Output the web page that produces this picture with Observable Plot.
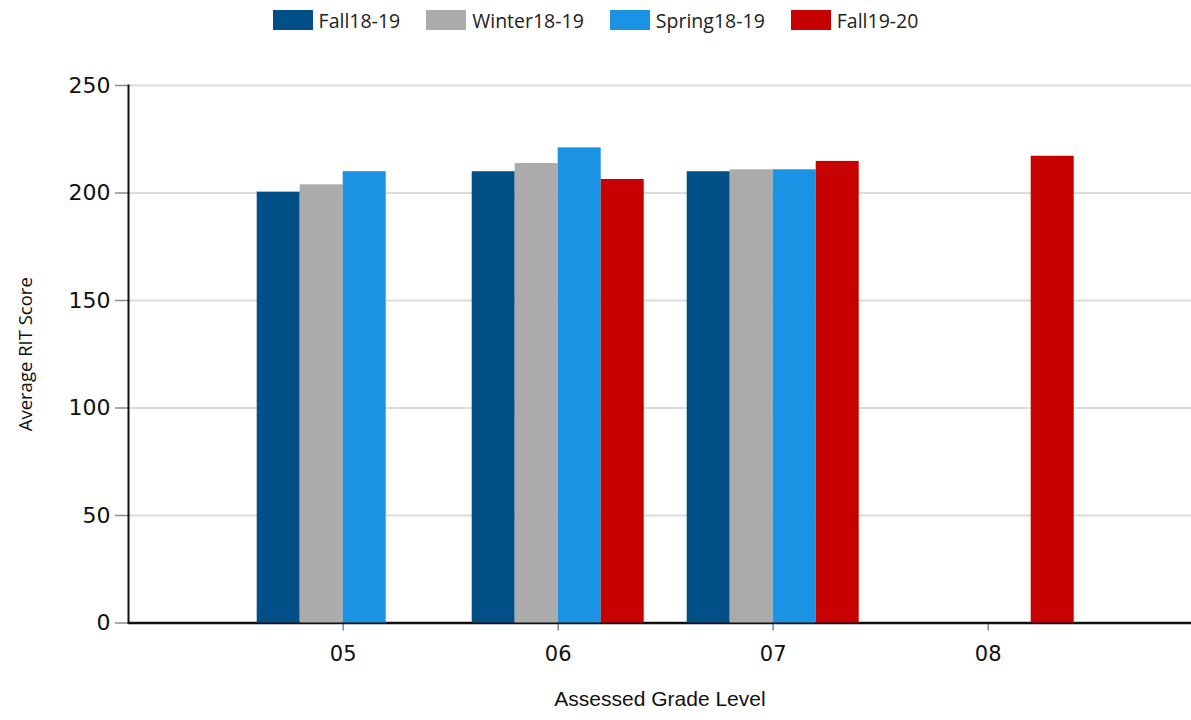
<!DOCTYPE html>
<html><head><meta charset="utf-8">
<script src="https://cdn.jsdelivr.net/npm/d3@7"></script>
<script src="https://cdn.jsdelivr.net/npm/@observablehq/plot@0.6"></script>
<style>
body{margin:0;background:#fff;}
#wrap{position:relative;width:1191px;}
#legend{height:40px;display:flex;justify-content:center;align-items:center;font-family:"Open Sans",sans-serif;font-size:19.5px;color:#222}
.item{display:flex;align-items:center;margin:0 13px}
.sw{width:40px;height:20px;margin-right:6px}
#chart{position:relative;width:1191px;height:680px}
#chart svg{position:absolute;left:0;top:0}
</style></head><body>
<div id="wrap"><div id="legend"></div><div id="chart"></div></div>
<script>
const grades = ["05","06","07","08"];
const series = ["Fall18-19","Winter18-19","Spring18-19","Fall19-20"];
const colors = ["#014f87","#aaabaa","#1b93e5","#c70000"];
const fall1819   = [200.4, 209.9, 209.9, null];
const winter1819 = [203.8, 213.7, 210.8, null];
const spring1819 = [209.9, 221.0, 210.8, null];
const fall1920   = [null, 206.3, 214.7, 217.1];
const yTicks = [0, 50, 100, 150, 200, 250];
const xTitle = "Assessed Grade Level";
const yTitle = "Average RIT Score";

const valuesBySeries = [fall1819, winter1819, spring1819, fall1920];
const data = [];
series.forEach((s, si) => grades.forEach((g, gi) => {
  const v = valuesBySeries[si][gi];
  if (v != null) data.push({grade: g, series: s, value: v});
}));

// legend
const legend = document.getElementById("legend");
series.forEach((s, i) => {
  const it = document.createElement("div"); it.className = "item";
  const sw = document.createElement("div"); sw.className = "sw"; sw.style.background = colors[i];
  const tx = document.createElement("span"); tx.textContent = s;
  it.appendChild(sw); it.appendChild(tx); legend.appendChild(it);
});

const common = {width: 1191, height: 680, marginLeft: 128, marginRight: 0, marginTop: 45, marginBottom: 97.5};
const bandOpts = {type: "band", domain: grades, paddingInner: 0.2, paddingOuter: 0.5721, align: 0.5232, round: false};

const base = Plot.plot({
  ...common,
  style: {background: "white", color: "#111"},
  x: {...bandOpts, label: null},
  y: {domain: [0, 250], label: null},
  marks: [
    Plot.gridY(yTicks, {stroke: "#dcdcdc", strokeOpacity: 1, strokeWidth: 2}),
    Plot.axisY(yTicks, {tickSize: 13, tickPadding: 5, stroke: "#888", strokeWidth: 1.5, fill: "#111",
      fontSize: 22, fontFamily: "DejaVu Sans", label: yTitle, labelArrow: "none", labelAnchor: "center", labelOffset: 110}),
    Plot.axisX({tickSize: 8, tickPadding: 15, stroke: "#888", strokeWidth: 1.5, fill: "#111",
      fontSize: 21, fontFamily: "DejaVu Sans", label: xTitle, labelArrow: "none", labelAnchor: "center", labelOffset: 83}),
    Plot.ruleY([0], {stroke: "#111", strokeWidth: 2.5}),
    Plot.frame({anchor: "left", stroke: "#111", strokeWidth: 2})
  ]
});

const bars = Plot.plot({
  ...common,
  fx: {...bandOpts, axis: null, label: null},
  x: {domain: series, padding: 0, axis: null, round: false},
  y: {domain: [0, 250], axis: null},
  color: {domain: series, range: colors},
  marks: [
    Plot.barY(data, {fx: "grade", x: "series", y: "value", fill: "series"})
  ]
});
bars.style.background = "transparent";

const chart = document.getElementById("chart");
chart.appendChild(base);
chart.appendChild(bars);

// axis title fonts
base.querySelectorAll('[aria-label="y-axis label"] text, [aria-label="y-axis label"]').forEach(n => {
  n.setAttribute("font-family", "Open Sans"); n.setAttribute("font-size", "18.5");
  if (n.tagName === "text") n.textContent = yTitle;
});
base.querySelectorAll('[aria-label="x-axis label"] text, [aria-label="x-axis label"]').forEach(n => {
  n.setAttribute("font-family", "Liberation Sans"); n.setAttribute("font-size", "21");
  if (n.tagName === "text") n.textContent = xTitle;
});
</script>
</body></html>
